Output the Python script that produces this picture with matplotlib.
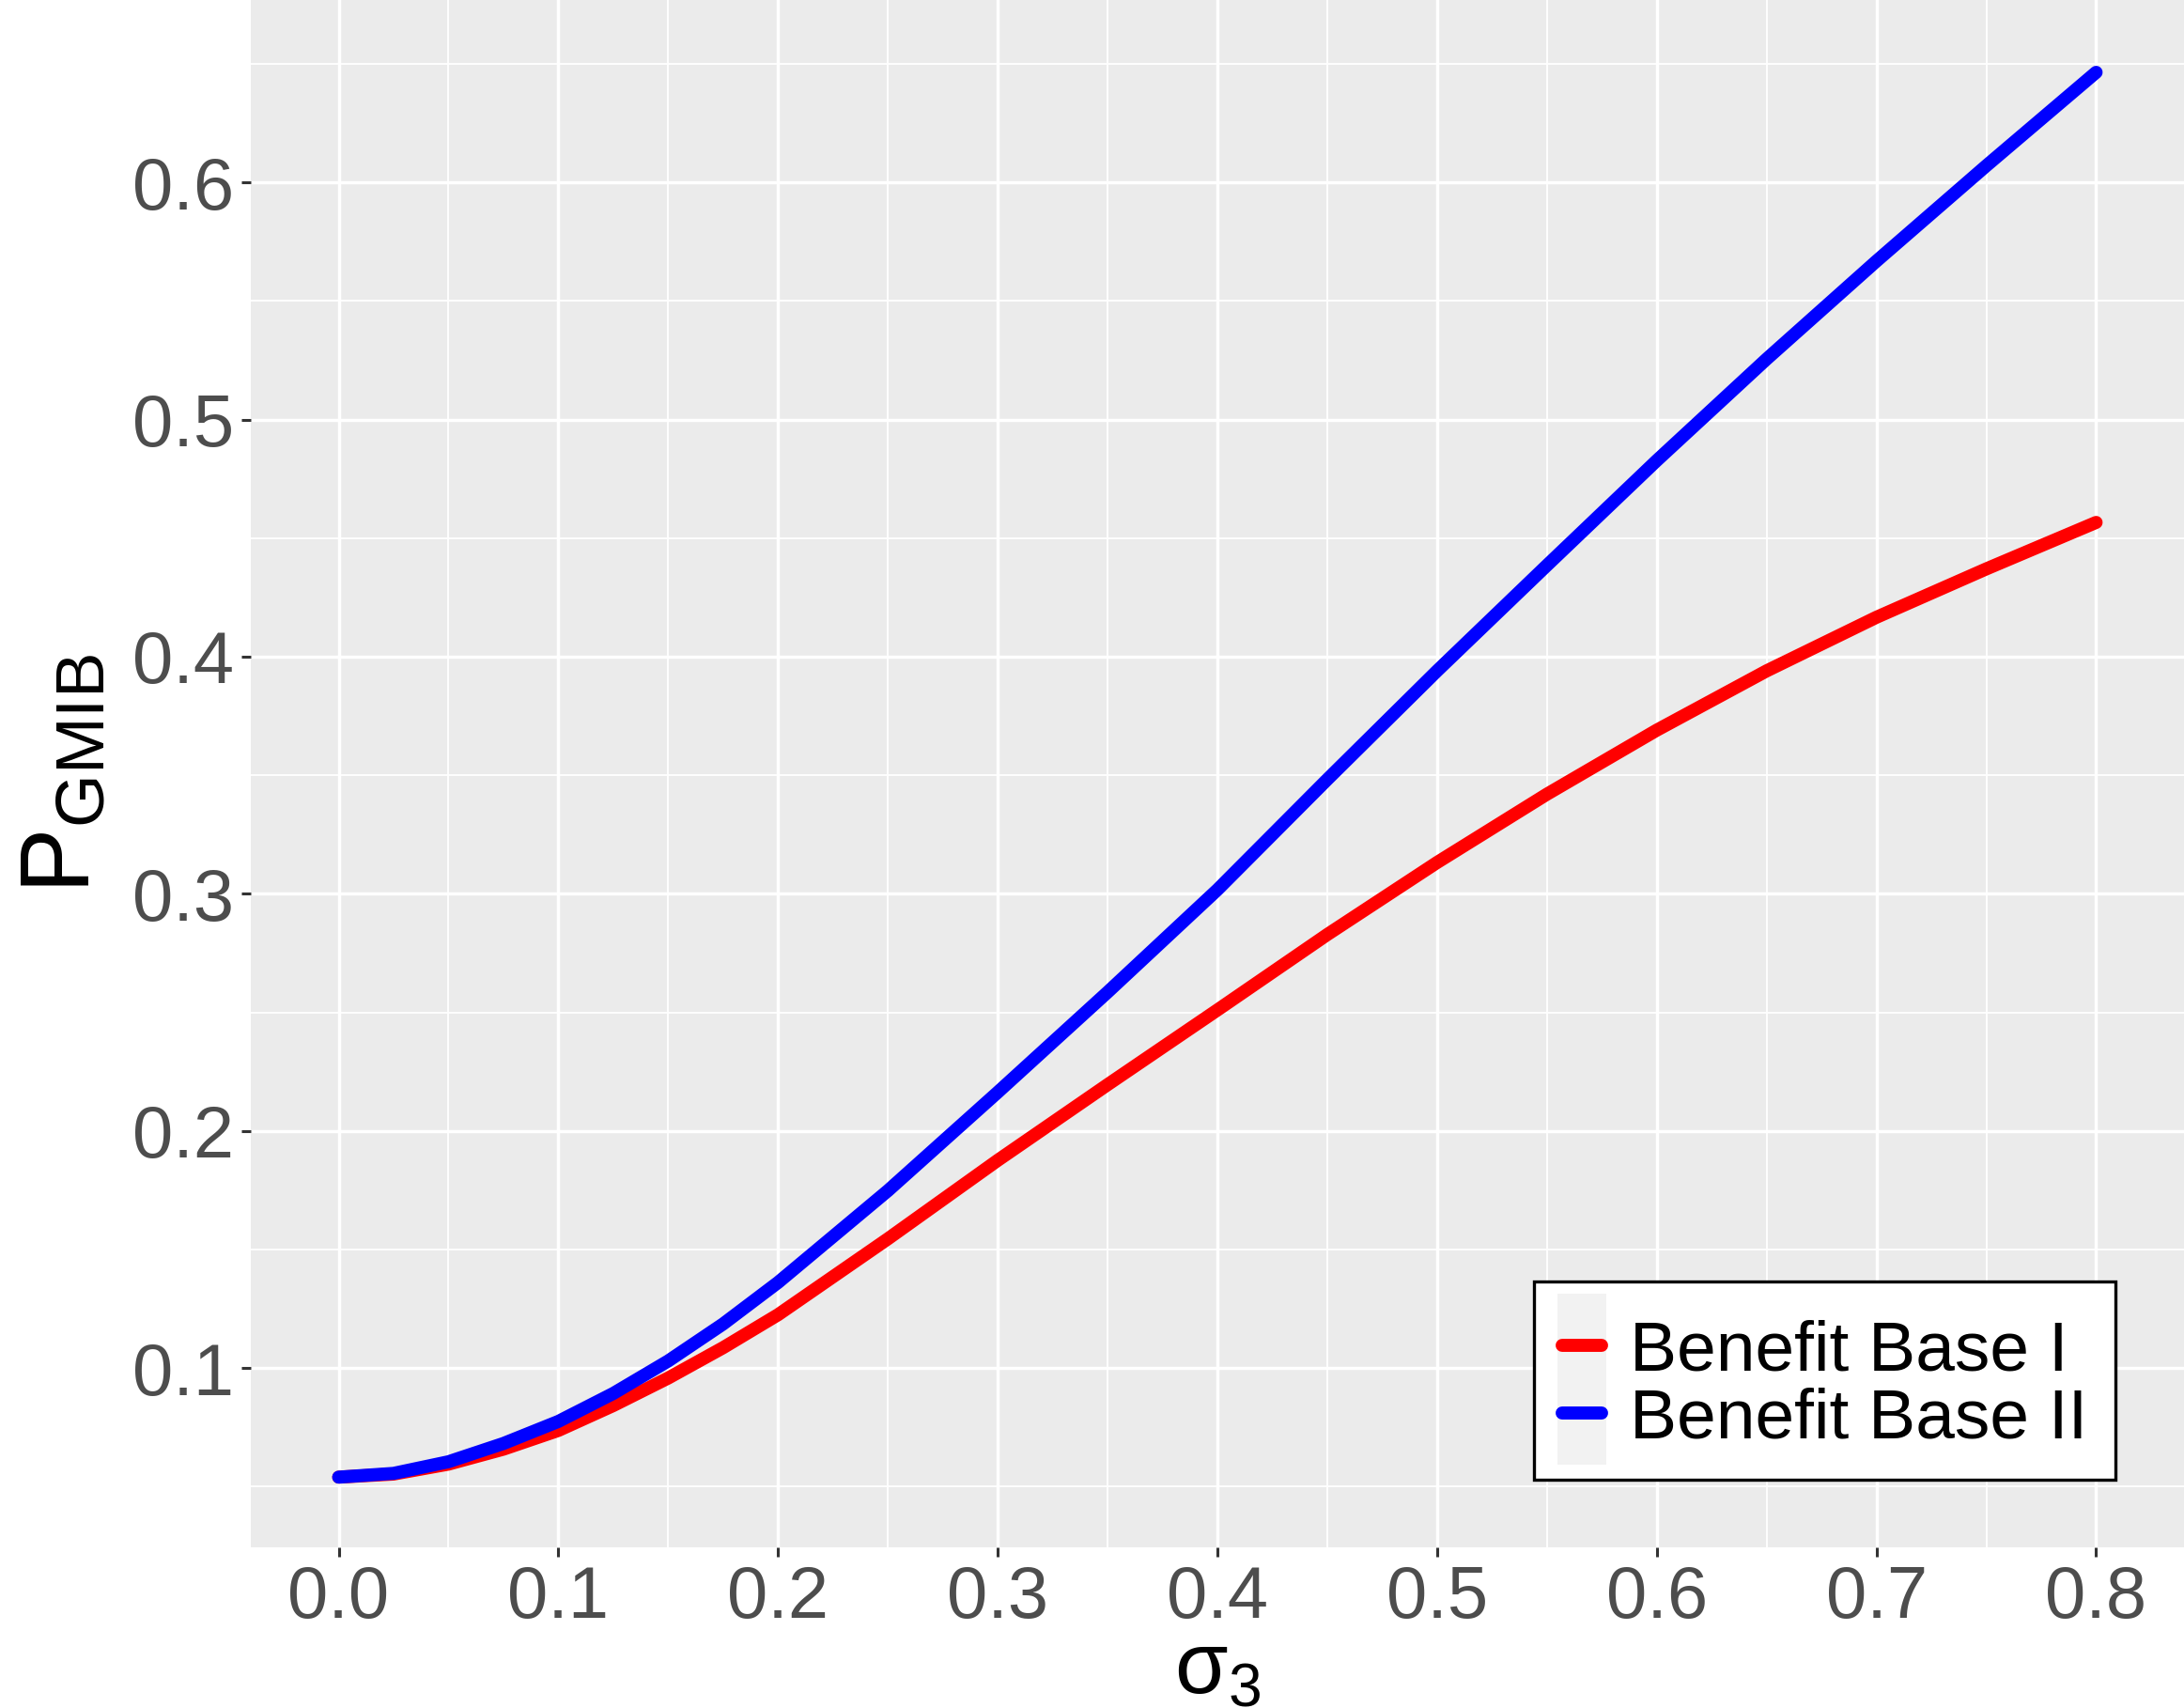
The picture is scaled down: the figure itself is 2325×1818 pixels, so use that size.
import matplotlib
matplotlib.use("Agg")
import matplotlib.pyplot as plt
from matplotlib.ticker import MultipleLocator, FormatStrFormatter
from matplotlib.legend_handler import HandlerLine2D
from matplotlib.patches import Rectangle

plt.rcParams['font.family'] = ['Liberation Sans', 'DejaVu Sans']
plt.rcParams['mathtext.fontset'] = 'custom'
plt.rcParams['mathtext.rm'] = 'Liberation Sans'
plt.rcParams['mathtext.it'] = 'Liberation Sans'
plt.rcParams['mathtext.sf'] = 'Liberation Sans'

# Data
sigma3 = [0.0, 0.025, 0.05, 0.075, 0.1, 0.125, 0.15, 0.175, 0.2, 0.25, 0.3, 0.35, 0.4,
          0.45, 0.5, 0.55, 0.6, 0.65, 0.7, 0.75, 0.8]
base_I = [0.054, 0.0553, 0.0595, 0.0658, 0.0737, 0.0842, 0.0958, 0.1086, 0.1225, 0.1545, 0.1876,
          0.2195, 0.251, 0.2828, 0.3132, 0.342, 0.369, 0.394, 0.4166, 0.437, 0.4566]
base_II = [0.054, 0.0556, 0.0605, 0.0682, 0.0775, 0.0893, 0.103, 0.1186, 0.1361, 0.1748, 0.2163,
           0.2585, 0.3017, 0.3482, 0.394, 0.4385, 0.4827, 0.5255, 0.5668, 0.607, 0.6464]
series_labels = ["Benefit Base I", "Benefit Base II"]
series_colors = ["#FF0000", "#0000FF"]


class KeyHandler(HandlerLine2D):
    def create_artists(self, legend, orig_handle, xdescent, ydescent,
                       width, height, fontsize, trans):
        extra = height * 0.55
        rect = Rectangle((-xdescent - width * 0.12, -ydescent - extra),
                         width * 1.24, height + 2 * extra,
                         facecolor="#F2F2F2", edgecolor='none', transform=trans)
        arts = super().create_artists(legend, orig_handle, xdescent, ydescent,
                                      width, height, fontsize, trans)
        return [rect] + list(arts)


W, H = 2325, 1818
fig = plt.figure(figsize=(W / 100, H / 100), dpi=100)
ax = fig.add_axes([267 / W, (H - 1647) / H, 1 - 267 / W, 1647 / H])
ax.set_facecolor("#EBEBEB")

for vals, lab, col in zip([base_I, base_II], series_labels, series_colors):
    ax.plot(sigma3, vals, color=col, lw=10, label=lab, solid_capstyle='round',
            solid_joinstyle='round', zorder=3)

ax.set_xlim(-0.04, 0.84)
ax.set_ylim(0.0244, 0.6769)
ax.xaxis.set_major_locator(MultipleLocator(0.1))
ax.xaxis.set_minor_locator(MultipleLocator(0.05))
ax.yaxis.set_major_locator(MultipleLocator(0.1))
ax.yaxis.set_minor_locator(MultipleLocator(0.05))
ax.xaxis.set_major_formatter(FormatStrFormatter('%.1f'))
ax.yaxis.set_major_formatter(FormatStrFormatter('%.1f'))

ax.grid(which='major', color='white', lw=2.5, zorder=1)
ax.grid(which='minor', color='white', lw=1.3, zorder=1)
ax.set_axisbelow(True)
for s in ax.spines.values():
    s.set_visible(False)

ax.tick_params(which='major', length=7, width=2.2, color='#333333',
               labelsize=56, labelcolor='#4D4D4D', pad=6)
ax.tick_params(which='minor', length=0)

ax.set_xlabel(r'$\mathrm{σ}_{3}$', fontsize=66, labelpad=-2, color='black')
ax.set_ylabel(r'$\mathrm{P}_{\mathrm{GMIB}}$', fontsize=75, labelpad=17, color='black')

leg = ax.legend(loc='lower right', bbox_to_anchor=(0.9645, 0.0437), borderaxespad=0,
                fontsize=54, frameon=True, fancybox=False, framealpha=1,
                edgecolor='black', handlelength=0.55, handletextpad=0.4,
                labelspacing=0.04, borderpad=0.4, title=' ',
                title_fontproperties={'size': 6},
                handler_map={plt.Line2D: KeyHandler()})
leg.get_frame().set_linewidth(2.4)
for line in leg.get_lines():
    line.set_linewidth(7)
    line.set_solid_capstyle('butt')

fig.savefig("out.png", dpi=100)
